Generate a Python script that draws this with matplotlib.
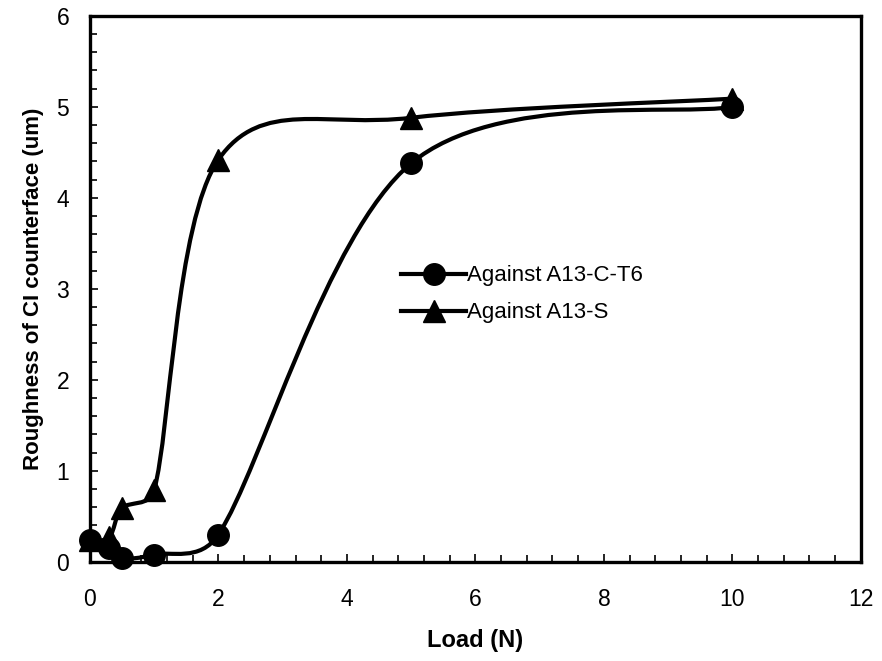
import numpy as np
import matplotlib
matplotlib.use("Agg")
import matplotlib.pyplot as plt
from matplotlib.path import Path
from matplotlib.patches import PathPatch
from matplotlib.lines import Line2D
from matplotlib.ticker import MultipleLocator

plt.rcParams['font.family'] = ['Liberation Sans', 'DejaVu Sans']

load = [0, 0.3, 0.5, 1, 2, 5, 10]
rough_c_t6 = [0.24, 0.15, 0.04, 0.08, 0.30, 4.38, 5.00]
rough_s = [0.24, 0.27, 0.59, 0.79, 4.42, 4.88, 5.09]

series_labels = ["Against A13-C-T6", "Against A13-S"]
x_ticks = [0, 2, 4, 6, 8, 10, 12]
y_ticks = [0, 1, 2, 3, 4, 5, 6]

FIG_W, FIG_H, DPI = 8.82, 6.61, 100
AX_RECT = [0.102, 0.150, 0.874, 0.826]
XLIM, YLIM = (0, 12), (0, 6)


def smooth_path(xs, ys, tension=1.0 / 6.0):
    """Spreadsheet-style smoothed line: cubic Bezier segments whose control
    arms follow the neighbouring points, capped at half the segment length
    (computed in screen units)."""
    sx = FIG_W * DPI * AX_RECT[2] / (XLIM[1] - XLIM[0])
    sy = FIG_H * DPI * AX_RECT[3] / (YLIM[1] - YLIM[0])
    p = np.column_stack([np.asarray(xs, float) * sx, np.asarray(ys, float) * sy])
    n = len(p)

    def arm(vec, seg_len):
        a = vec * tension
        length = np.linalg.norm(a)
        if length > seg_len / 2.0 and length > 0:
            a = a * (seg_len / 2.0) / length
        return a

    verts = [p[0]]
    codes = [Path.MOVETO]
    for i in range(n - 1):
        p0 = p[i - 1] if i > 0 else p[i]
        p1, p2 = p[i], p[i + 1]
        p3 = p[i + 2] if i + 2 < n else p[i + 1]
        d12 = np.linalg.norm(p2 - p1)
        c1 = p1 + arm(p2 - p0, d12)
        c2 = p2 - arm(p3 - p1, d12)
        verts += [c1, c2, p2]
        codes += [Path.CURVE4] * 3
    v = np.array(verts)
    v[:, 0] /= sx
    v[:, 1] /= sy
    return Path(v, codes)


fig = plt.figure(figsize=(FIG_W, FIG_H), dpi=DPI)
ax = fig.add_axes(AX_RECT)

lw = 3.0
ms = 15.5
for ys, mk, z in [(rough_c_t6, 'o', 3), (rough_s, '^', 4)]:
    ax.add_patch(PathPatch(smooth_path(load, ys), facecolor='none',
                           edgecolor='black', lw=lw, zorder=z,
                           capstyle='round', joinstyle='round'))
    ax.plot(load, ys, linestyle='none', marker=mk, color='black',
            markersize=ms, zorder=z + 0.5, clip_on=False)

ax.set_xlim(*XLIM)
ax.set_ylim(*YLIM)
ax.set_xticks(x_ticks)
ax.set_yticks(y_ticks)
ax.xaxis.set_minor_locator(MultipleLocator(0.4))
ax.yaxis.set_minor_locator(MultipleLocator(0.2))
ax.tick_params(which='both', direction='in', width=1.2, top=False, right=False,
               labelsize=16.5)
ax.tick_params(axis='x', pad=19)
ax.tick_params(axis='y', pad=15)
ax.tick_params(which='major', length=6)
ax.tick_params(which='minor', length=5)
for s in ax.spines.values():
    s.set_linewidth(2.4)

ax.set_xlabel("Load (N)", fontsize=17, fontweight='bold', labelpad=13)
ax.set_ylabel("Roughness of CI counterface (um)", fontsize=16,
              fontweight='bold', labelpad=9)

handles = [Line2D([], [], color='black', lw=lw, marker='o', markersize=ms),
           Line2D([], [], color='black', lw=lw, marker='^', markersize=ms)]
ax.legend(handles, series_labels, frameon=False, fontsize=16,
          loc='center left', bbox_to_anchor=(0.378, 0.49),
          handlelength=2.9, handletextpad=0.05, labelspacing=0.72)

fig.savefig("out.png", dpi=DPI)
